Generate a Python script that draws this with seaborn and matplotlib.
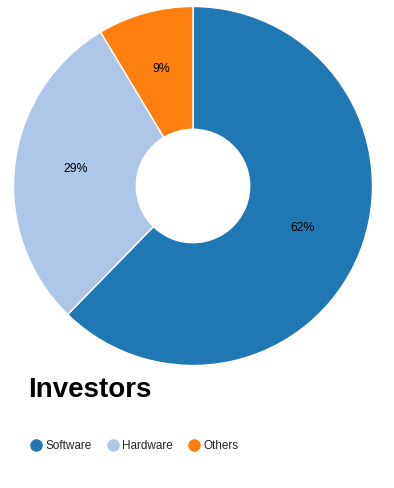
import matplotlib
matplotlib.use("Agg")
import matplotlib.pyplot as plt
from matplotlib.lines import Line2D
import seaborn as sns

categories = ["Software", "Hardware", "Others"]
values = [62.3, 29.1, 8.6]
title = "Investors"

sns.set_theme(style="white")
plt.rcParams['font.family'] = ['Liberation Sans', 'DejaVu Sans']

palette = sns.color_palette("tab20")
colors = [palette[0], palette[1], palette[2]]

W, H = 394, 488
fig = plt.figure(figsize=(W / 100, H / 100), dpi=100)
cx, cy, R = 193, 186, 179.5
ax = fig.add_axes([(cx - R) / W, (H - cy - R) / H, 2 * R / W, 2 * R / H])
inner = 56.7 / R
wedges, texts, autotexts = ax.pie(
    values, colors=colors, startangle=90, counterclock=False,
    autopct=lambda p: f"{p:.0f}%", pctdistance=(1 + inner) / 2,
    wedgeprops=dict(width=1 - inner, edgecolor="white", linewidth=1),
    textprops=dict(fontsize=8.8, color="black"), radius=1)
for t in autotexts:
    x, y = t.get_position()
    t.set_position((x, y + 3 / R))
ax.set_xlim(-1, 1)
ax.set_ylim(-1, 1)
ax.set_aspect("equal")
ax.axis("off")

fig.text(28 / W, 1 - 390 / H, title, fontsize=20, fontweight="bold",
         va="center", ha="left", color="black")

handles = [Line2D([0], [0], marker="o", linestyle="none", markersize=8,
                  markerfacecolor=c, markeredgecolor=c) for c in colors]
fig.legend(handles, categories, loc="center left",
           bbox_to_anchor=(30.5 / W, 1 - 446 / H), ncol=3, frameon=False,
           fontsize=8.5, handlelength=0.9, handletextpad=0.33,
           columnspacing=1.38, borderpad=0, borderaxespad=0)

fig.savefig("out.png", dpi=100)
